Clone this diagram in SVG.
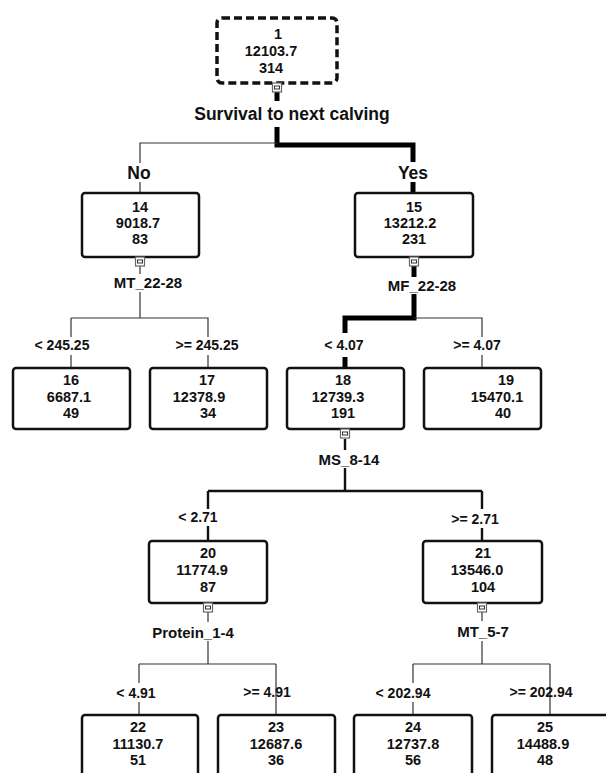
<svg xmlns="http://www.w3.org/2000/svg" width="606" height="773" viewBox="0 0 606 773">
<style>
text{font-family:"Liberation Sans",Arial,sans-serif;font-weight:bold;fill:#111;text-anchor:middle}
.n{font-size:14.5px}
.v{font-size:15px}
.t{font-size:14px}
.big{font-size:17.5px}
.box{fill:#fff;stroke:#111;stroke-width:2.5}
.root{fill:#fff;stroke:#111;stroke-width:3.5;stroke-dasharray:8 4}
.thin{fill:none;stroke:#333;stroke-width:1.2}
.mid{fill:none;stroke:#111;stroke-width:2.4}
.thick{fill:none;stroke:#000;stroke-width:5}
.sq{fill:#fff;stroke:#666;stroke-width:1.2}
.sqi{fill:#fff;stroke:#333;stroke-width:1}
</style>
<defs>
<g id="tog">
<rect class="sq" x="-4.5" y="0" width="9" height="9"/>
<rect class="sqi" x="-2.5" y="3" width="5" height="3"/>
</g>
</defs>
<g id="connectors">
<path class="thick" d="M277 92V101"/>
<path class="thick" d="M277 127V145H413V162"/>
<path class="thick" d="M413 182V193"/>
<path class="thin" d="M277 143H140V163"/>
<path class="thin" d="M140 182V193"/>
<path class="thin" d="M140 266V274"/>
<path class="thin" d="M140 292V318"/>
<path class="thin" d="M71 318H208V337"/>
<path class="thin" d="M71 318V337"/>
<path class="thin" d="M71 355V368"/>
<path class="thin" d="M208 355V368"/>
<path class="thick" d="M414 266V277"/>
<path class="thick" d="M414 294V318H345V333"/>
<path class="thick" d="M345 357V368"/>
<path class="thin" d="M414 318H482V337"/>
<path class="thin" d="M482 355V368"/>
<path class="mid" d="M345 439V450"/>
<path class="mid" d="M345 468V491"/>
<path class="mid" d="M208 491H482"/>
<path class="mid" d="M208 491V509"/>
<path class="mid" d="M208 526V541"/>
<path class="mid" d="M482 491V509"/>
<path class="mid" d="M482 528V541"/>
<path class="thin" d="M208 612V622"/>
<path class="thin" d="M208 641V664"/>
<path class="thin" d="M139 664H276"/>
<path class="thin" d="M139 664V683"/>
<path class="thin" d="M139 702V715"/>
<path class="thin" d="M276 664V715"/>
<path class="thin" d="M482 612V621"/>
<path class="thin" d="M482 641V664"/>
<path class="thin" d="M413 664H550"/>
<path class="thin" d="M413 664V683"/>
<path class="thin" d="M413 702V715"/>
<path class="thin" d="M550 664V715"/>
</g>
<g id="labels">
<text class="big" x="292" y="120">Survival to next calving</text>
<text class="big" x="139" y="179">No</text>
<text class="big" x="413" y="179">Yes</text>
<text class="v" x="148" y="288">MT_22-28</text>
<text class="v" x="422" y="291">MF_22-28</text>
<text class="t" x="62" y="350">&lt; 245.25</text>
<text class="t" x="207" y="350">&gt;= 245.25</text>
<text class="t" x="344" y="350">&lt; 4.07</text>
<text class="t" x="477" y="350">&gt;= 4.07</text>
<text class="v" x="349" y="465">MS_8-14</text>
<text class="t" x="198" y="522">&lt; 2.71</text>
<text class="t" x="475" y="524">&gt;= 2.71</text>
<text class="v" x="193" y="638">Protein_1-4</text>
<text class="v" x="483" y="637">MT_5-7</text>
<text class="t" x="136" y="698">&lt; 4.91</text>
<text class="t" x="267" y="697">&gt;= 4.91</text>
<text class="t" x="403" y="698">&lt; 202.94</text>
<text class="t" x="541" y="697">&gt;= 202.94</text>
</g>
<g id="node1">
<rect class="root" x="217" y="18" width="120" height="65" rx="5"/>
<text class="n" x="278" y="39">1</text>
<text class="n" x="271" y="56">12103.7</text>
<text class="n" x="271" y="73">314</text>
<use href="#tog" x="277" y="83"/>
</g>
<g id="node14">
<rect class="box" x="82" y="193" width="117" height="64" rx="3"/>
<text class="n" x="140" y="212">14</text>
<text class="n" x="138" y="228">9018.7</text>
<text class="n" x="140" y="244">83</text>
<use href="#tog" x="140" y="257"/>
</g>
<g id="node15">
<rect class="box" x="355" y="193" width="118" height="64" rx="3"/>
<text class="n" x="414" y="212">15</text>
<text class="n" x="410" y="228">13212.2</text>
<text class="n" x="414" y="244">231</text>
<use href="#tog" x="414" y="257"/>
</g>
<g id="node16">
<rect class="box" x="13" y="368" width="117" height="61" rx="3"/>
<text class="n" x="71" y="385">16</text>
<text class="n" x="69" y="402">6687.1</text>
<text class="n" x="71" y="418">49</text>
</g>
<g id="node17">
<rect class="box" x="150" y="368" width="117" height="61" rx="3"/>
<text class="n" x="207" y="385">17</text>
<text class="n" x="199" y="402">12378.9</text>
<text class="n" x="208" y="418">34</text>
</g>
<g id="node18">
<rect class="box" x="287" y="368" width="117" height="61" rx="3"/>
<text class="n" x="343" y="385">18</text>
<text class="n" x="338" y="402">12739.3</text>
<text class="n" x="343" y="418">191</text>
<use href="#tog" x="345" y="429"/>
</g>
<g id="node19">
<rect class="box" x="424" y="368" width="117" height="61" rx="3"/>
<text class="n" x="506" y="385">19</text>
<text class="n" x="497" y="402">15470.1</text>
<text class="n" x="503" y="418">40</text>
</g>
<g id="node20">
<rect class="box" x="149" y="541" width="118" height="62" rx="3"/>
<text class="n" x="208" y="558">20</text>
<text class="n" x="202" y="575">11774.9</text>
<text class="n" x="208" y="592">87</text>
<use href="#tog" x="208" y="603"/>
</g>
<g id="node21">
<rect class="box" x="423" y="541" width="119" height="62" rx="3"/>
<text class="n" x="483" y="558">21</text>
<text class="n" x="477" y="575">13546.0</text>
<text class="n" x="483" y="592">104</text>
<use href="#tog" x="482" y="603"/>
</g>
<g id="node22">
<rect class="box" x="82" y="715" width="116" height="66" rx="3"/>
<text class="n" x="138" y="732">22</text>
<text class="n" x="138" y="749">11130.7</text>
<text class="n" x="138" y="765">51</text>
</g>
<g id="node23">
<rect class="box" x="218" y="715" width="117" height="66" rx="3"/>
<text class="n" x="276" y="732">23</text>
<text class="n" x="276" y="749">12687.6</text>
<text class="n" x="276" y="765">36</text>
</g>
<g id="node24">
<rect class="box" x="354" y="715" width="118" height="66" rx="3"/>
<text class="n" x="413" y="732">24</text>
<text class="n" x="413" y="749">12737.8</text>
<text class="n" x="413" y="765">56</text>
</g>
<g id="node25">
<rect class="box" x="492" y="715" width="125" height="66" rx="3"/>
<text class="n" x="545" y="732">25</text>
<text class="n" x="543" y="749">14488.9</text>
<text class="n" x="545" y="765">48</text>
</g>
</svg>
